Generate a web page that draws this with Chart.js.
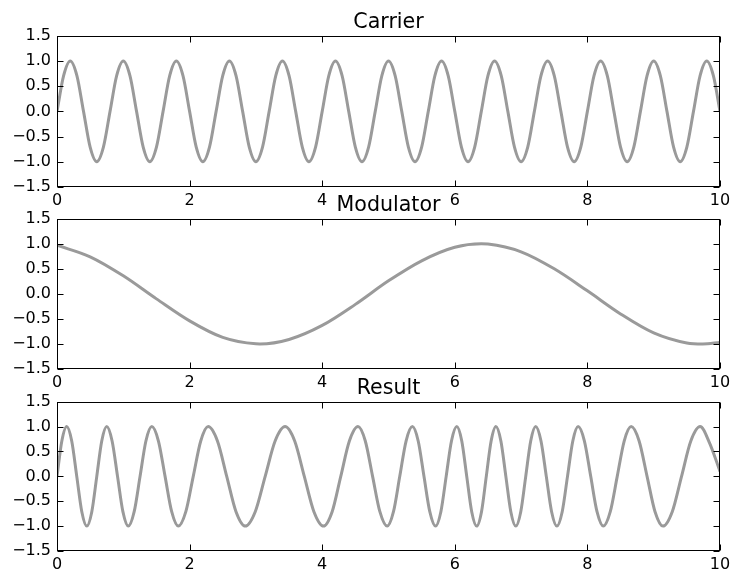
<!DOCTYPE html>
<html lang="en">
<head>
    <meta charset="UTF-8">
    <title>Carrier / Modulator / Result</title>
    <script src="https://cdn.jsdelivr.net/npm/chart.js"></script>
    <style>
        body { margin: 0; background: #fff; }
        #wrap { position: relative; width: 732px; height: 570px; }
        #wrap canvas { position: absolute; left: 0; top: 0; }
    </style>
</head>
<body>
    <div id="wrap">
        <canvas id="carrierChart" width="732" height="570"></canvas>
        <canvas id="modulatorChart" width="732" height="570"></canvas>
        <canvas id="resultChart" width="732" height="570"></canvas>
    </div>

    <script>
        // values
        const titles = ["Carrier", "Modulator", "Result"];
        const xTicks = [0, 2, 4, 6, 8, 10];
        const yTicks = [-1.5, -1.0, -0.5, 0.0, 0.5, 1.0, 1.5];

        const carrierX = [0, 0.1, 0.2, 0.3, 0.4, 0.5, 0.6, 0.7, 0.8, 0.9, 1.0, 1.1, 1.2, 1.3, 1.4, 1.5, 1.6, 1.7, 1.8, 1.9,
            2.0, 2.1, 2.2, 2.3, 2.4, 2.5, 2.6, 2.7, 2.8, 2.9, 3.0, 3.1, 3.2, 3.3, 3.4, 3.5, 3.6, 3.7, 3.8, 3.9,
            4.0, 4.1, 4.2, 4.3, 4.4, 4.5, 4.6, 4.7, 4.8, 4.9, 5.0, 5.1, 5.2, 5.3, 5.4, 5.5, 5.6, 5.7, 5.8, 5.9,
            6.0, 6.1, 6.2, 6.3, 6.4, 6.5, 6.6, 6.7, 6.8, 6.9, 7.0, 7.1, 7.2, 7.3, 7.4, 7.5, 7.6, 7.7, 7.8, 7.9,
            8.0, 8.1, 8.2, 8.3, 8.4, 8.5, 8.6, 8.7, 8.8, 8.9, 9.0, 9.1, 9.2, 9.3, 9.4, 9.5, 9.6, 9.7, 9.8, 9.9, 10.0];
        const carrierY = [0, 0.71, 1, 0.71, 0, -0.71, -1, -0.71, 0, 0.71, 1, 0.71, 0, -0.71, -1, -0.71, 0, 0.71, 1, 0.71,
            0, -0.71, -1, -0.71, 0, 0.71, 1, 0.71, 0, -0.71, -1, -0.71, 0, 0.71, 1, 0.71, 0, -0.71, -1, -0.71,
            0, 0.71, 1, 0.71, 0, -0.71, -1, -0.71, 0, 0.71, 1, 0.71, 0, -0.71, -1, -0.71, 0, 0.71, 1, 0.71,
            0, -0.71, -1, -0.71, 0, 0.71, 1, 0.71, 0, -0.71, -1, -0.71, 0, 0.71, 1, 0.71, 0, -0.71, -1, -0.71,
            0, 0.71, 1, 0.71, 0, -0.71, -1, -0.71, 0, 0.71, 1, 0.71, 0, -0.71, -1, -0.71, 0, 0.71, 1, 0.71, 0];

        const modulatorX = [0, 0.5, 1, 1.5, 2, 2.5, 3, 3.06, 3.5, 4, 4.5, 5, 5.5, 6, 6.4, 6.5, 7, 7.5, 8, 8.5, 9, 9.5, 9.74, 10];
        const modulatorY = [0.97, 0.74, 0.36, -0.10, -0.54, -0.87, -0.998, -1, -0.91, -0.63, -0.21, 0.26, 0.66, 0.93, 1, 0.995,
            0.84, 0.50, 0.06, -0.40, -0.78, -0.98, -1, -0.97];

        const resultX = [0, 0.073, 0.146, 0.222, 0.298, 0.374, 0.45, 0.525, 0.60, 0.675, 0.75, 0.831, 0.913, 0.994, 1.075,
            1.164, 1.253, 1.341, 1.43, 1.53, 1.63, 1.73, 1.83, 1.943, 2.055, 2.168, 2.28, 2.42, 2.56, 2.70, 2.84,
            2.99, 3.14, 3.29, 3.44, 3.585, 3.73, 3.875, 4.02, 4.15, 4.28, 4.41, 4.54, 4.65, 4.76, 4.87, 4.98,
            5.075, 5.17, 5.265, 5.36, 5.448, 5.535, 5.623, 5.71, 5.79, 5.87, 5.95, 6.03, 6.105, 6.18, 6.255, 6.33,
            6.403, 6.475, 6.548, 6.62, 6.695, 6.77, 6.845, 6.92, 6.995, 7.07, 7.145, 7.22, 7.30, 7.38, 7.46, 7.54,
            7.62, 7.70, 7.78, 7.86, 7.955, 8.05, 8.145, 8.24, 8.345, 8.45, 8.555, 8.66, 8.78, 8.90, 9.02, 9.14,
            9.28, 9.42, 9.56, 9.70, 9.84, 10];
        const resultY = [0, 0.71, 1, 0.71, 0, -0.71, -1, -0.71, 0, 0.71, 1, 0.71, 0, -0.71, -1,
            -0.71, 0, 0.71, 1, 0.71, 0, -0.71, -1, -0.71, 0, 0.71, 1, 0.71, 0, -0.71, -1,
            -0.71, 0, 0.71, 1, 0.71, 0, -0.71, -1, -0.71, 0, 0.71, 1, 0.71, 0, -0.71, -1,
            -0.71, 0, 0.71, 1, 0.71, 0, -0.71, -1, -0.71, 0, 0.71, 1, 0.71, 0, -0.71, -1,
            -0.71, 0, 0.71, 1, 0.71, 0, -0.71, -1, -0.71, 0, 0.71, 1, 0.71, 0, -0.71, -1,
            -0.71, 0, 0.71, 1, 0.71, 0, -0.71, -1, -0.71, 0, 0.71, 1, 0.71, 0, -0.71, -1,
            -0.71, 0, 0.71, 1, 0.68, 0.1];

        Chart.defaults.font.family = "'DejaVu Sans', sans-serif";
        Chart.defaults.color = "#000";

        // matplotlib style box with ticks pointing inwards
        const framePlugin = {
            id: "frame",
            afterDraw(chart) {
                const ctx = chart.ctx;
                const a = chart.chartArea;
                const xs = chart.scales.x, ys = chart.scales.y;
                const l = Math.round(a.left) + 0.5, r = Math.round(a.right) - 0.5;
                const t = Math.round(a.top) + 0.5, b = Math.round(a.bottom) - 0.5;
                ctx.save();
                ctx.strokeStyle = "#000";
                ctx.lineWidth = 1;
                ctx.beginPath();
                xTicks.forEach(v => {
                    const px = Math.round(xs.getPixelForValue(v)) + 0.5;
                    ctx.moveTo(px, b); ctx.lineTo(px, b - 6);
                    ctx.moveTo(px, t); ctx.lineTo(px, t + 6);
                });
                yTicks.forEach(v => {
                    const py = Math.round(ys.getPixelForValue(v)) + 0.5;
                    ctx.moveTo(l, py); ctx.lineTo(l + 6, py);
                    ctx.moveTo(r, py); ctx.lineTo(r - 6, py);
                });
                ctx.stroke();
                ctx.strokeRect(l, t, r - l, b - t);
                ctx.restore();
            }
        };

        function fmt(v) {
            return (v < 0 ? "\u2212" : "") + Math.abs(v).toFixed(1);
        }

        function createChart(id, title, xs, ys, padTop, padBottom) {
            const ctx = document.getElementById(id).getContext("2d");
            return new Chart(ctx, {
                type: "line",
                data: {
                    datasets: [{
                        label: title,
                        data: xs.map((x, i) => ({ x: x, y: ys[i] })),
                        borderColor: "#9a9a9a",
                        borderWidth: 3,
                        pointRadius: 0,
                        cubicInterpolationMode: "monotone",
                        fill: false
                    }]
                },
                options: {
                    responsive: false,
                    animation: false,
                    devicePixelRatio: 1,
                    events: [],
                    layout: { padding: { left: 0, right: 12, top: padTop, bottom: padBottom } },
                    plugins: {
                        legend: { display: false },
                        tooltip: { enabled: false },
                        title: {
                            display: true,
                            fullSize: false,
                            text: title,
                            font: { size: 20.6, weight: "normal" },
                            color: "#000",
                            padding: { top: 10, bottom: 1 }
                        }
                    },
                    scales: {
                        x: {
                            type: "linear",
                            min: 0, max: 10,
                            afterBuildTicks: s => { s.ticks = xTicks.map(v => ({ value: v })); },
                            afterFit: s => { s.height = 18; s.paddingLeft = 0; s.paddingRight = 0; },
                            ticks: { font: { size: 16 }, padding: 4, maxRotation: 0, autoSkip: false, color: "#000" },
                            grid: { display: false, drawTicks: false },
                            border: { display: false }
                        },
                        y: {
                            min: -1.5, max: 1.5,
                            afterBuildTicks: s => { s.ticks = yTicks.map(v => ({ value: v })); },
                            afterFit: s => { s.width = 57; },
                            ticks: { font: { size: 16 }, padding: 6, callback: v => fmt(v), color: "#000" },
                            grid: { display: false, drawTicks: false },
                            border: { display: false }
                        }
                    }
                },
                plugins: [framePlugin]
            });
        }

        createChart("carrierChart", titles[0], carrierX, carrierY, 0, 365);
        createChart("modulatorChart", titles[1], modulatorX, modulatorY, 183, 183);
        createChart("resultChart", titles[2], resultX, resultY, 366, 1);
    </script>
</body>
</html>
